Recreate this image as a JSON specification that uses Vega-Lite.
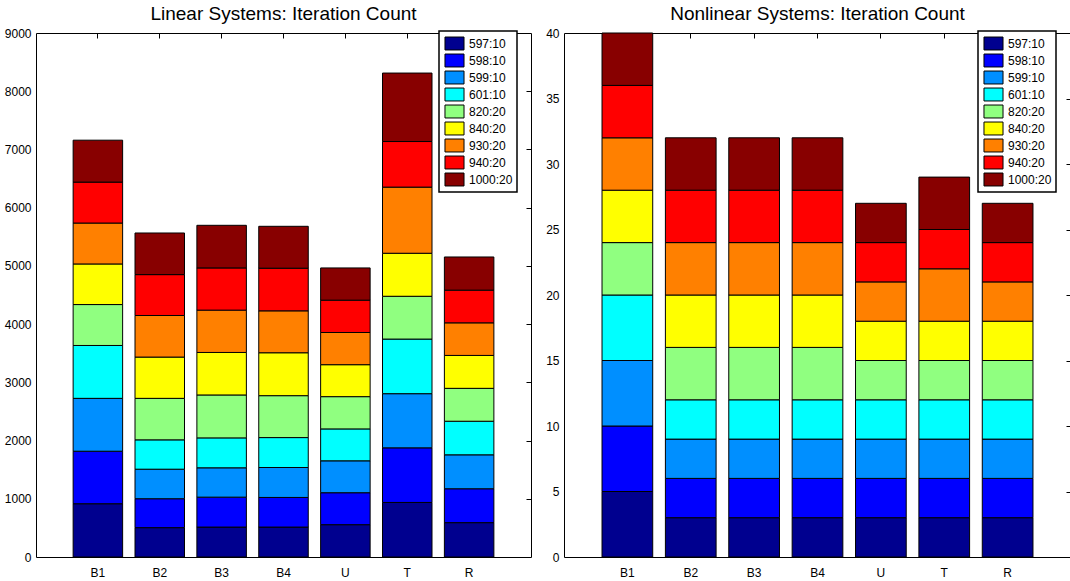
{
  "$schema": "https://vega.github.io/schema/vega-lite/v6.json",
  "padding": {"left": 3, "top": 4, "right": 1, "bottom": 4},
  "spacing": 13,
  "datasets": {
    "linear": [
      {"m": "B1", "s": "597:10", "k": 1, "v": 915}, {"m": "B1", "s": "598:10", "k": 2, "v": 902}, {"m": "B1", "s": "599:10", "k": 3, "v": 908}, {"m": "B1", "s": "601:10", "k": 4, "v": 908}, {"m": "B1", "s": "820:20", "k": 5, "v": 703}, {"m": "B1", "s": "840:20", "k": 6, "v": 697}, {"m": "B1", "s": "930:20", "k": 7, "v": 703}, {"m": "B1", "s": "940:20", "k": 8, "v": 703}, {"m": "B1", "s": "1000:20", "k": 9, "v": 720},
      {"m": "B2", "s": "597:10", "k": 1, "v": 504}, {"m": "B2", "s": "598:10", "k": 2, "v": 497}, {"m": "B2", "s": "599:10", "k": 3, "v": 507}, {"m": "B2", "s": "601:10", "k": 4, "v": 504}, {"m": "B2", "s": "820:20", "k": 5, "v": 713}, {"m": "B2", "s": "840:20", "k": 6, "v": 709}, {"m": "B2", "s": "930:20", "k": 7, "v": 714}, {"m": "B2", "s": "940:20", "k": 8, "v": 702}, {"m": "B2", "s": "1000:20", "k": 9, "v": 715},
      {"m": "B3", "s": "597:10", "k": 1, "v": 514}, {"m": "B3", "s": "598:10", "k": 2, "v": 514}, {"m": "B3", "s": "599:10", "k": 3, "v": 504}, {"m": "B3", "s": "601:10", "k": 4, "v": 514}, {"m": "B3", "s": "820:20", "k": 5, "v": 737}, {"m": "B3", "s": "840:20", "k": 6, "v": 730}, {"m": "B3", "s": "930:20", "k": 7, "v": 727}, {"m": "B3", "s": "940:20", "k": 8, "v": 725}, {"m": "B3", "s": "1000:20", "k": 9, "v": 732},
      {"m": "B4", "s": "597:10", "k": 1, "v": 514}, {"m": "B4", "s": "598:10", "k": 2, "v": 509}, {"m": "B4", "s": "599:10", "k": 3, "v": 514}, {"m": "B4", "s": "601:10", "k": 4, "v": 514}, {"m": "B4", "s": "820:20", "k": 5, "v": 720}, {"m": "B4", "s": "840:20", "k": 6, "v": 737}, {"m": "B4", "s": "930:20", "k": 7, "v": 720}, {"m": "B4", "s": "940:20", "k": 8, "v": 732}, {"m": "B4", "s": "1000:20", "k": 9, "v": 720},
      {"m": "U", "s": "597:10", "k": 1, "v": 555}, {"m": "U", "s": "598:10", "k": 2, "v": 549}, {"m": "U", "s": "599:10", "k": 3, "v": 548}, {"m": "U", "s": "601:10", "k": 4, "v": 548}, {"m": "U", "s": "820:20", "k": 5, "v": 554}, {"m": "U", "s": "840:20", "k": 6, "v": 549}, {"m": "U", "s": "930:20", "k": 7, "v": 553}, {"m": "U", "s": "940:20", "k": 8, "v": 555}, {"m": "U", "s": "1000:20", "k": 9, "v": 554},
      {"m": "T", "s": "597:10", "k": 1, "v": 937}, {"m": "T", "s": "598:10", "k": 2, "v": 938}, {"m": "T", "s": "599:10", "k": 3, "v": 930}, {"m": "T", "s": "601:10", "k": 4, "v": 938}, {"m": "T", "s": "820:20", "k": 5, "v": 735}, {"m": "T", "s": "840:20", "k": 6, "v": 739}, {"m": "T", "s": "930:20", "k": 7, "v": 1136}, {"m": "T", "s": "940:20", "k": 8, "v": 783}, {"m": "T", "s": "1000:20", "k": 9, "v": 1176},
      {"m": "R", "s": "597:10", "k": 1, "v": 590}, {"m": "R", "s": "598:10", "k": 2, "v": 582}, {"m": "R", "s": "599:10", "k": 3, "v": 583}, {"m": "R", "s": "601:10", "k": 4, "v": 577}, {"m": "R", "s": "820:20", "k": 5, "v": 565}, {"m": "R", "s": "840:20", "k": 6, "v": 565}, {"m": "R", "s": "930:20", "k": 7, "v": 560}, {"m": "R", "s": "940:20", "k": 8, "v": 561}, {"m": "R", "s": "1000:20", "k": 9, "v": 570}
    ],
    "nonlinear": [
      {"m": "B1", "s": "597:10", "k": 1, "v": 5}, {"m": "B1", "s": "598:10", "k": 2, "v": 5}, {"m": "B1", "s": "599:10", "k": 3, "v": 5}, {"m": "B1", "s": "601:10", "k": 4, "v": 5}, {"m": "B1", "s": "820:20", "k": 5, "v": 4}, {"m": "B1", "s": "840:20", "k": 6, "v": 4}, {"m": "B1", "s": "930:20", "k": 7, "v": 4}, {"m": "B1", "s": "940:20", "k": 8, "v": 4}, {"m": "B1", "s": "1000:20", "k": 9, "v": 4},
      {"m": "B2", "s": "597:10", "k": 1, "v": 3}, {"m": "B2", "s": "598:10", "k": 2, "v": 3}, {"m": "B2", "s": "599:10", "k": 3, "v": 3}, {"m": "B2", "s": "601:10", "k": 4, "v": 3}, {"m": "B2", "s": "820:20", "k": 5, "v": 4}, {"m": "B2", "s": "840:20", "k": 6, "v": 4}, {"m": "B2", "s": "930:20", "k": 7, "v": 4}, {"m": "B2", "s": "940:20", "k": 8, "v": 4}, {"m": "B2", "s": "1000:20", "k": 9, "v": 4},
      {"m": "B3", "s": "597:10", "k": 1, "v": 3}, {"m": "B3", "s": "598:10", "k": 2, "v": 3}, {"m": "B3", "s": "599:10", "k": 3, "v": 3}, {"m": "B3", "s": "601:10", "k": 4, "v": 3}, {"m": "B3", "s": "820:20", "k": 5, "v": 4}, {"m": "B3", "s": "840:20", "k": 6, "v": 4}, {"m": "B3", "s": "930:20", "k": 7, "v": 4}, {"m": "B3", "s": "940:20", "k": 8, "v": 4}, {"m": "B3", "s": "1000:20", "k": 9, "v": 4},
      {"m": "B4", "s": "597:10", "k": 1, "v": 3}, {"m": "B4", "s": "598:10", "k": 2, "v": 3}, {"m": "B4", "s": "599:10", "k": 3, "v": 3}, {"m": "B4", "s": "601:10", "k": 4, "v": 3}, {"m": "B4", "s": "820:20", "k": 5, "v": 4}, {"m": "B4", "s": "840:20", "k": 6, "v": 4}, {"m": "B4", "s": "930:20", "k": 7, "v": 4}, {"m": "B4", "s": "940:20", "k": 8, "v": 4}, {"m": "B4", "s": "1000:20", "k": 9, "v": 4},
      {"m": "U", "s": "597:10", "k": 1, "v": 3}, {"m": "U", "s": "598:10", "k": 2, "v": 3}, {"m": "U", "s": "599:10", "k": 3, "v": 3}, {"m": "U", "s": "601:10", "k": 4, "v": 3}, {"m": "U", "s": "820:20", "k": 5, "v": 3}, {"m": "U", "s": "840:20", "k": 6, "v": 3}, {"m": "U", "s": "930:20", "k": 7, "v": 3}, {"m": "U", "s": "940:20", "k": 8, "v": 3}, {"m": "U", "s": "1000:20", "k": 9, "v": 3},
      {"m": "T", "s": "597:10", "k": 1, "v": 3}, {"m": "T", "s": "598:10", "k": 2, "v": 3}, {"m": "T", "s": "599:10", "k": 3, "v": 3}, {"m": "T", "s": "601:10", "k": 4, "v": 3}, {"m": "T", "s": "820:20", "k": 5, "v": 3}, {"m": "T", "s": "840:20", "k": 6, "v": 3}, {"m": "T", "s": "930:20", "k": 7, "v": 4}, {"m": "T", "s": "940:20", "k": 8, "v": 3}, {"m": "T", "s": "1000:20", "k": 9, "v": 4},
      {"m": "R", "s": "597:10", "k": 1, "v": 3}, {"m": "R", "s": "598:10", "k": 2, "v": 3}, {"m": "R", "s": "599:10", "k": 3, "v": 3}, {"m": "R", "s": "601:10", "k": 4, "v": 3}, {"m": "R", "s": "820:20", "k": 5, "v": 3}, {"m": "R", "s": "840:20", "k": 6, "v": 3}, {"m": "R", "s": "930:20", "k": 7, "v": 3}, {"m": "R", "s": "940:20", "k": 8, "v": 3}, {"m": "R", "s": "1000:20", "k": 9, "v": 3}
    ]
  },
  "hconcat": [
    {
      "title": {"text": "Linear Systems: Iteration Count", "offset": 3},
      "width": 495,
      "height": 524,
      "data": {"name": "linear"},
      "layer": [
        {
          "mark": {"type": "bar", "stroke": "black", "strokeWidth": 1, "opacity": 1},
          "encoding": {
            "x": {"field": "m", "type": "nominal", "title": null,
                  "scale": {"domain": ["B1", "B2", "B3", "B4", "U", "T", "R"], "paddingInner": 0.2, "paddingOuter": 0.6},
                  "axis": {"orient": "bottom", "labelAngle": 0, "ticks": false, "labelPadding": 10, "domain": false}},
            "y": {"field": "v", "type": "quantitative", "stack": "zero", "title": null,
                  "scale": {"domain": [0, 9000], "nice": false},
                  "axis": {"orient": "left", "format": "d", "values": [0, 1000, 2000, 3000, 4000, 5000, 6000, 7000, 8000, 9000], "ticks": false, "labelPadding": 5, "domain": false}},
            "color": {"field": "s", "type": "nominal", "title": null,
                      "scale": {"domain": ["597:10", "598:10", "599:10", "601:10", "820:20", "840:20", "930:20", "940:20", "1000:20"],
                                "range": ["#00008F", "#0000FF", "#008FFF", "#00FFFF", "#90FF80", "#FFFF00", "#FF8000", "#FF0000", "#880000"]},
                      "legend": {"orient": "none", "legendX": 403, "legendY": -2}},
            "order": {"field": "k", "type": "quantitative"}
          }
        },
        {
          "mark": {"type": "bar", "opacity": 0},
          "encoding": {
            "x": {"field": "m", "type": "nominal", "title": null,
                  "axis": {"orient": "bottom", "offset": -524, "labels": false, "ticks": true, "tickSize": 5, "domain": false}},
            "y": {"field": "v", "type": "quantitative", "title": null,
                  "axis": {"orient": "left", "offset": -495, "labels": false, "values": [1000, 2000, 3000, 4000, 5000, 6000, 7000, 8000], "ticks": true, "tickSize": 5, "domain": false}}
          }
        }
      ],
      "resolve": {"axis": {"x": "independent", "y": "independent"}}
    },
    {
      "title": {"text": "Nonlinear Systems: Iteration Count", "offset": 3},
      "width": 507,
      "height": 524,
      "data": {"name": "nonlinear"},
      "layer": [
        {
          "mark": {"type": "bar", "stroke": "black", "strokeWidth": 1, "opacity": 1},
          "encoding": {
            "x": {"field": "m", "type": "nominal", "title": null,
                  "scale": {"domain": ["B1", "B2", "B3", "B4", "U", "T", "R"], "paddingInner": 0.2, "paddingOuter": 0.6},
                  "axis": {"orient": "bottom", "labelAngle": 0, "ticks": false, "labelPadding": 10, "domain": false}},
            "y": {"field": "v", "type": "quantitative", "stack": "zero", "title": null,
                  "scale": {"domain": [0, 40], "nice": false},
                  "axis": {"orient": "left", "values": [0, 5, 10, 15, 20, 25, 30, 35, 40], "ticks": false, "labelPadding": 5, "domain": false}},
            "color": {"field": "s", "type": "nominal", "title": null,
                      "scale": {"domain": ["597:10", "598:10", "599:10", "601:10", "820:20", "840:20", "930:20", "940:20", "1000:20"],
                                "range": ["#00008F", "#0000FF", "#008FFF", "#00FFFF", "#90FF80", "#FFFF00", "#FF8000", "#FF0000", "#880000"]},
                      "legend": {"orient": "none", "legendX": 414, "legendY": -2}},
            "order": {"field": "k", "type": "quantitative"}
          }
        },
        {
          "mark": {"type": "bar", "opacity": 0},
          "encoding": {
            "x": {"field": "m", "type": "nominal", "title": null,
                  "axis": {"orient": "bottom", "offset": -524, "labels": false, "ticks": true, "tickSize": 5, "domain": false}},
            "y": {"field": "v", "type": "quantitative", "title": null,
                  "axis": {"orient": "left", "offset": -507, "labels": false, "values": [5, 10, 15, 20, 25, 30, 35], "ticks": true, "tickSize": 5, "domain": false}}
          }
        }
      ],
      "resolve": {"axis": {"x": "independent", "y": "independent"}}
    }
  ],
  "resolve": {"legend": {"color": "independent"}},
  "config": {
    "background": "white",
    "view": {"stroke": "black", "strokeWidth": 1},
    "axis": {"grid": false, "labelFont": "Liberation Sans", "labelFontSize": 12, "labelColor": "black", "domainColor": "black", "tickColor": "black", "tickWidth": 1},
    "title": {"font": "Liberation Sans", "fontSize": 19, "fontWeight": "normal", "color": "black", "anchor": "middle"},
    "legend": {
      "strokeColor": "black",
      "strokeWidth": 1.5,
      "fillColor": "white",
      "padding": 4,
      "symbolType": "M-1.19,-0.81H1.19V0.81H-1.19Z",
      "symbolSize": 256,
      "symbolStrokeColor": "black",
      "symbolStrokeWidth": 1,
      "symbolOpacity": 1,
      "symbolOffset": 3,
      "labelFont": "Liberation Sans",
      "labelFontSize": 12,
      "labelColor": "black",
      "labelOffset": 6,
      "rowPadding": 0,
      "labelLimit": 200
    }
  }
}
